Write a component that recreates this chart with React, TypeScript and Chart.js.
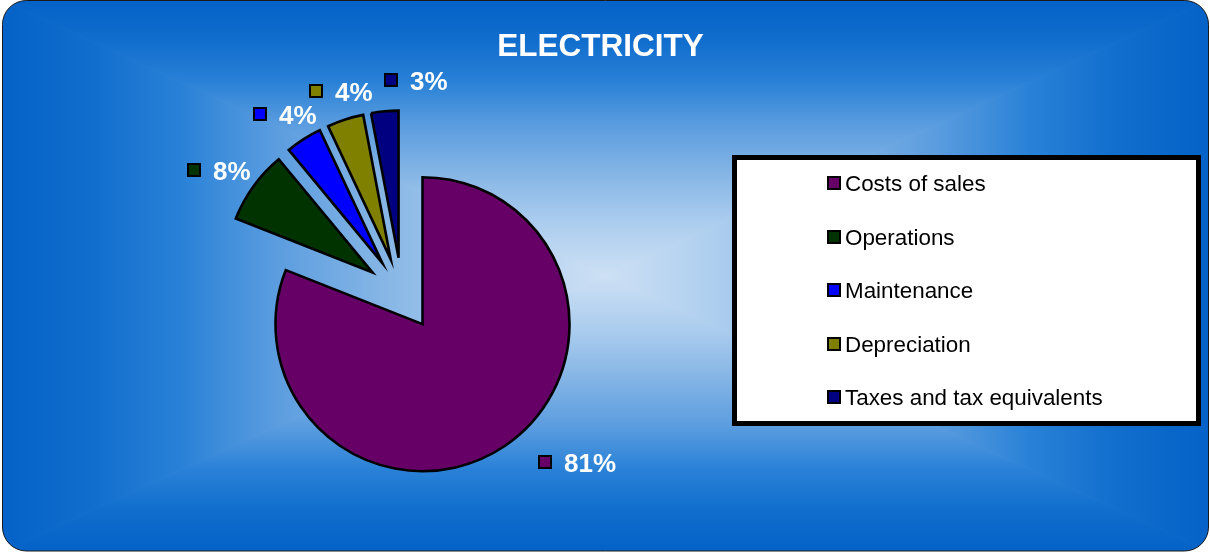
import React, { useEffect, useRef } from "react";
import { Chart, registerables } from "chart.js";

Chart.register(...registerables);

// ---- data ----
const chartTitle = "ELECTRICITY";
const categories = [
  "Costs of sales",
  "Operations",
  "Maintenance",
  "Depreciation",
  "Taxes and tax equivalents",
];
const shares = [81, 8, 4, 4, 3];
const sliceColors = ["#660066", "#003300", "#0000FF", "#808000", "#000080"];

// ---- layout / style constants ----
const W = 1210;
const H = 552;
const EXPLODE = 36.5;
const PIE_RADIUS = 147;
// nudge of each data label (square's left edge, vertical centre) from its slice's outer edge point
const LABEL_NUDGE: [number, number][] = [
  [32, 15],
  [-66, -16],
  [-50, -24],
  [-36, -28],
  [-1, -30],
];
const GRADIENT_STOPS: [number, string][] = [
  [0, "#0462C8"],
  [0.15, "#116ECD"],
  [0.3, "#2A82D7"],
  [0.45, "#5A9CDF"],
  [0.65, "#8AB8E6"],
  [0.8, "#AACCEE"],
  [1, "#CDE0F4"],
];
const FONT = "'Liberation Sans', Arial, Helvetica, sans-serif";

function roundRectPath(ctx: CanvasRenderingContext2D, x: number, y: number, w: number, h: number, r: number) {
  ctx.beginPath();
  ctx.moveTo(x + r, y);
  ctx.lineTo(x + w - r, y);
  ctx.arcTo(x + w, y, x + w, y + r, r);
  ctx.lineTo(x + w, y + h - r);
  ctx.arcTo(x + w, y + h, x + w - r, y + h, r);
  ctx.lineTo(x + r, y + h);
  ctx.arcTo(x, y + h, x, y + h - r, r);
  ctx.lineTo(x, y + r);
  ctx.arcTo(x, y, x + r, y, r);
  ctx.closePath();
}

const framePlugin = {
  id: "frame",
  beforeDraw(chart: any) {
    const ctx: CanvasRenderingContext2D = chart.ctx;
    ctx.save();
    ctx.fillStyle = "#ffffff";
    ctx.fillRect(0, 0, W, H);
    const L = 2.5, T = 0.5, R = 1208.5, B = 551;
    roundRectPath(ctx, L, T, R - L, B - T, 24);
    ctx.save();
    ctx.clip();
    const cx = (L + R) / 2;
    const cy = (T + B) / 2;
    const tris: { pts: number[][]; g: number[] }[] = [
      { pts: [[L, T], [R, T], [cx, cy]], g: [cx, T, cx, cy] },
      { pts: [[L, B], [R, B], [cx, cy]], g: [cx, B, cx, cy] },
      { pts: [[L, T], [L, B], [cx, cy]], g: [L, cy, cx, cy] },
      { pts: [[R, T], [R, B], [cx, cy]], g: [R, cy, cx, cy] },
    ];
    tris.forEach((t) => {
      const grad = ctx.createLinearGradient(t.g[0], t.g[1], t.g[2], t.g[3]);
      GRADIENT_STOPS.forEach(([o, c]) => grad.addColorStop(o, c));
      ctx.beginPath();
      ctx.moveTo(t.pts[0][0], t.pts[0][1]);
      ctx.lineTo(t.pts[1][0], t.pts[1][1]);
      ctx.lineTo(t.pts[2][0], t.pts[2][1]);
      ctx.closePath();
      ctx.fillStyle = grad;
      ctx.strokeStyle = grad;
      ctx.lineWidth = 1;
      ctx.fill();
      ctx.stroke();
    });
    ctx.restore();
    roundRectPath(ctx, L, T, R - L, B - T, 24);
    ctx.strokeStyle = "#1a1a1a";
    ctx.lineWidth = 1;
    ctx.stroke();

    // title
    ctx.fillStyle = "#ffffff";
    ctx.font = `bold 31.5px ${FONT}`;
    ctx.textAlign = "center";
    ctx.textBaseline = "alphabetic";
    ctx.fillText(chartTitle, 600.5, 55.5);
    ctx.restore();
  },
  beforeDatasetDraw(chart: any, args: any) {
    const ctx: CanvasRenderingContext2D = chart.ctx;
    const meta = chart.getDatasetMeta(args.index);
    meta.data.forEach((arc: any) => {
      const mid = (arc.startAngle + arc.endAngle) / 2;
      ctx.save();
      ctx.translate(Math.cos(mid) * EXPLODE, Math.sin(mid) * EXPLODE);
      arc.draw(ctx);
      ctx.restore();
    });
    return false;
  },
  afterDatasetsDraw(chart: any) {
    const ctx: CanvasRenderingContext2D = chart.ctx;
    const meta = chart.getDatasetMeta(0);
    ctx.save();
    meta.data.forEach((arc: any, i: number) => {
      const mid = (arc.startAngle + arc.endAngle) / 2;
      const rr = arc.outerRadius + EXPLODE + 1;
      const ex = arc.x + Math.cos(mid) * rr;
      const ey = arc.y + Math.sin(mid) * rr;
      const sx = Math.round(ex + LABEL_NUDGE[i][0]);
      const sy = Math.round(ey + LABEL_NUDGE[i][1]);
      ctx.fillStyle = "#000";
      ctx.fillRect(sx, sy - 7, 14, 14);
      ctx.fillStyle = sliceColors[i];
      ctx.fillRect(sx + 2, sy - 5, 10, 10);
      ctx.fillStyle = "#ffffff";
      ctx.font = `bold 26px ${FONT}`;
      ctx.textAlign = "left";
      ctx.textBaseline = "alphabetic";
      ctx.fillText(`${shares[i]}%`, sx + 26, sy + 10);
    });
    ctx.restore();
  },
  afterDraw(chart: any) {
    const ctx: CanvasRenderingContext2D = chart.ctx;
    ctx.save();
    ctx.fillStyle = "#ffffff";
    ctx.fillRect(732, 155, 469, 271);
    ctx.strokeStyle = "#000";
    ctx.lineWidth = 5;
    ctx.strokeRect(734.5, 157.5, 464, 266);
    ctx.font = `22.4px ${FONT}`;
    ctx.textAlign = "left";
    ctx.textBaseline = "alphabetic";
    categories.forEach((c, i) => {
      const y = Math.round(183 + i * 53.5);
      ctx.fillStyle = "#000";
      ctx.fillRect(827, y - 7, 14, 14);
      ctx.fillStyle = sliceColors[i];
      ctx.fillRect(829, y - 5, 10, 10);
      ctx.fillStyle = "#000";
      ctx.fillText(c, 845, y + 8);
    });
    ctx.restore();
  },
};

export default function App() {
  const ref = useRef<HTMLCanvasElement | null>(null);
  useEffect(() => {
    if (!ref.current) return;
    const chart = new Chart(ref.current, {
      type: "pie",
      data: {
        labels: categories,
        datasets: [
          {
            data: shares,
            backgroundColor: sliceColors,
            borderColor: "#000000",
            borderWidth: 2.6,
            borderJoinStyle: "miter",
          } as any,
        ],
      },
      options: {
        responsive: false,
        animation: false,
        devicePixelRatio: 1,
        radius: PIE_RADIUS,
        layout: { padding: { left: 0, right: 406, top: 36, bottom: 0 } },
        events: [],
        plugins: {
          legend: { display: false },
          title: { display: false },
          tooltip: { enabled: false },
        },
      } as any,
      plugins: [framePlugin as any],
    });
    return () => chart.destroy();
  }, []);
  return (
    <div style={{ position: "absolute", left: 0, top: 0, width: W, height: H }}>
      <canvas ref={ref} width={W} height={H} style={{ display: "block" }} />
    </div>
  );
}
